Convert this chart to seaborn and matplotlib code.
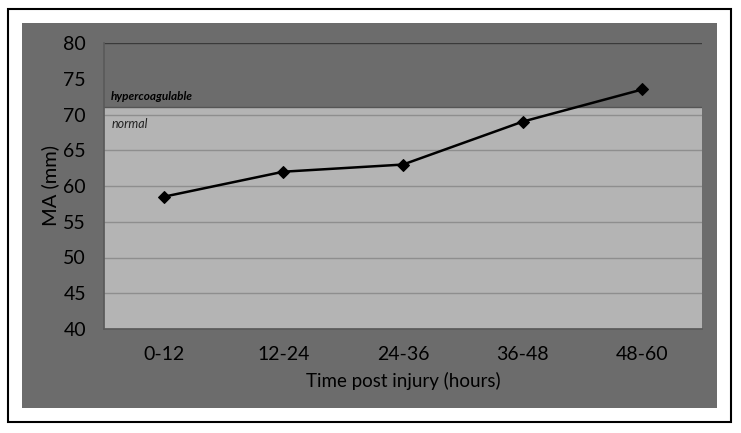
# Load packages
import numpy as np
import pandas as pd
import seaborn as sns
import matplotlib.pyplot as plt
from matplotlib.patches import Rectangle

# Data
time_bins = ["0-12", "12-24", "24-36", "36-48", "48-60"]
ma_mm = [58.5, 62.0, 63.0, 69.0, 73.5]
y_ticks = [40, 45, 50, 55, 60, 65, 70, 75, 80]
normal_upper = 71

df = pd.DataFrame({"time": time_bins, "ma": ma_mm})

sns.set_theme(style="white")
plt.rcParams["font.family"] = ["Lato", "DejaVu Sans"]

W, H = 741, 433
fig = plt.figure(figsize=(W / 100, H / 100), dpi=100)
fig.patch.set_facecolor("white")

# outer black frame and gray chart background (figure coords)
fig.patches.append(Rectangle((8 / W, 1 - 422 / H), (731 - 8) / W, (422 - 9) / H,
                             transform=fig.transFigure, facecolor="white",
                             edgecolor="black", linewidth=1.5, zorder=0))
fig.patches.append(Rectangle((22 / W, 1 - 408 / H), (717 - 22) / W, (408 - 23) / H,
                             transform=fig.transFigure, facecolor="#6c6c6c",
                             edgecolor="none", zorder=1))

ax = fig.add_axes([104 / W, 1 - 329 / H, (702 - 104) / W, (329 - 43) / H])
ax.set_facecolor("#b4b4b4")
ax.set_zorder(2)

# hypercoagulable zone
ax.axhspan(normal_upper, 80, color="#6c6c6c", zorder=0.5, linewidth=0)
ax.axhline(normal_upper, color="#555555", lw=1, zorder=0.6)
for yv in y_ticks[1:-1]:
    if yv < normal_upper:
        ax.axhline(yv, color="#8e8e8e", lw=1, zorder=0.4)
ax.axhline(80, color="#3a3a3a", lw=1, zorder=0.6)

sns.lineplot(data=df, x="time", y="ma", marker="D", color="black",
             markersize=6, markeredgecolor="black", linewidth=1.8, ax=ax, zorder=3)

ax.set_xlim(-0.5, 4.5)
ax.set_ylim(40, 80)
ax.set_yticks(y_ticks)
ax.tick_params(axis="both", labelsize=14, length=0, colors="black", labelcolor="black")
ax.tick_params(axis="y", pad=13)
ax.tick_params(axis="x", pad=12)
ax.set_xlabel("Time post injury (hours)", fontsize=13.5, labelpad=7, color="black")
ax.set_ylabel("MA (mm)", fontsize=14.5, labelpad=3, color="black")

for s in ["top", "right"]:
    ax.spines[s].set_visible(False)
ax.spines["left"].set_color("#5a5a5a")
ax.spines["bottom"].set_color("#5a5a5a")

ax.text(0.012, normal_upper + 0.7, "hypercoagulable", transform=ax.get_yaxis_transform(),
        fontsize=8.5, fontweight="bold", fontstyle="italic", color="black", va="bottom")
ax.text(0.012, normal_upper - 1.5, "normal", transform=ax.get_yaxis_transform(),
        fontsize=9, fontstyle="italic", color="#222222", va="top")

plt.savefig("out.png", dpi=100, facecolor=fig.get_facecolor())
